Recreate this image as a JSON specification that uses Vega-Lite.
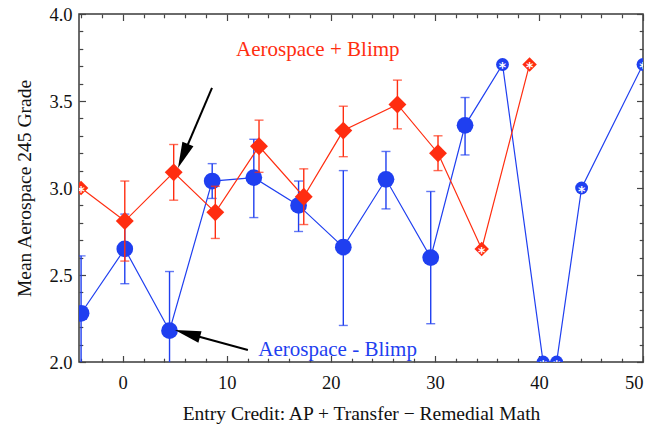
{
  "$schema": "https://vega.github.io/schema/vega-lite/v6.json",
  "width": 564,
  "height": 348,
  "autosize": "none",
  "padding": {"left": 79, "top": 14, "right": 4, "bottom": 63},
  "config": {
    "font": "Liberation Serif",
    "view": {"stroke": "#3a3a3a", "strokeWidth": 1.5},
    "axis": {"domain": false, "grid": false, "labelFont": "Liberation Serif", "titleFont": "Liberation Serif", "labelColor": "#111", "titleColor": "#111", "tickColor": "#444", "tickWidth": 1.2, "labelFontSize": 18.5, "titleFontSize": 19.5, "titleFontWeight": "normal"}
  },
  "datasets": {
    "pts": [
      {"s": "minus", "x": -4.0, "y": 2.28, "lo": 1.95, "hi": 2.61, "star": false},
      {"s": "minus", "x": 0.2, "y": 2.65, "lo": 2.45, "hi": 2.85, "star": false},
      {"s": "minus", "x": 4.5, "y": 2.18, "lo": 1.84, "hi": 2.52, "star": false},
      {"s": "minus", "x": 8.6, "y": 3.04, "lo": 2.94, "hi": 3.14, "star": false},
      {"s": "minus", "x": 12.6, "y": 3.06, "lo": 2.83, "hi": 3.28, "star": false},
      {"s": "minus", "x": 16.9, "y": 2.90, "lo": 2.75, "hi": 3.04, "star": false},
      {"s": "minus", "x": 21.2, "y": 2.66, "lo": 2.21, "hi": 3.10, "star": false},
      {"s": "minus", "x": 25.3, "y": 3.05, "lo": 2.88, "hi": 3.21, "star": false},
      {"s": "minus", "x": 29.6, "y": 2.60, "lo": 2.22, "hi": 2.98, "star": false},
      {"s": "minus", "x": 32.9, "y": 3.36, "lo": 3.19, "hi": 3.52, "star": false},
      {"s": "minus", "x": 36.5, "y": 3.71, "star": true},
      {"s": "minus", "x": 40.4, "y": 2.0, "star": true},
      {"s": "minus", "x": 41.7, "y": 2.0, "star": true},
      {"s": "minus", "x": 44.1, "y": 3.0, "star": true},
      {"s": "minus", "x": 50.0, "y": 3.71, "star": true},
      {"s": "plus", "x": -4.0, "y": 3.0, "star": true},
      {"s": "plus", "x": 0.2, "y": 2.81, "lo": 2.58, "hi": 3.04, "star": false},
      {"s": "plus", "x": 4.9, "y": 3.09, "lo": 2.93, "hi": 3.25, "star": false},
      {"s": "plus", "x": 8.9, "y": 2.86, "lo": 2.71, "hi": 3.01, "star": false},
      {"s": "plus", "x": 13.1, "y": 3.24, "lo": 3.09, "hi": 3.39, "star": false},
      {"s": "plus", "x": 17.4, "y": 2.95, "lo": 2.79, "hi": 3.11, "star": false},
      {"s": "plus", "x": 21.2, "y": 3.33, "lo": 3.18, "hi": 3.47, "star": false},
      {"s": "plus", "x": 26.4, "y": 3.48, "lo": 3.34, "hi": 3.62, "star": false},
      {"s": "plus", "x": 30.3, "y": 3.20, "lo": 3.10, "hi": 3.30, "star": false},
      {"s": "plus", "x": 34.5, "y": 2.65, "star": true},
      {"s": "plus", "x": 39.1, "y": 3.71, "star": true}
    ],
    "labels": [
      {"t": "Aerospace + Blimp", "x": 18.75, "y": 3.795, "c": "plus"},
      {"t": "Aerospace - Blimp", "x": 20.65, "y": 2.07, "c": "minus"}
    ],
    "arrows": [
      {"x": 8.58, "y": 3.575, "x2": 5.79, "y2": 3.184, "hx": 5.79, "hy": 3.184, "a": 202.5},
      {"x": 12.03, "y": 2.069, "x2": 6.22, "y2": 2.164, "hx": 6.22, "hy": 2.164, "a": 285.3}
    ]
  },
  "resolve": {"axis": {"x": "independent", "y": "independent"}},
  "layer": [
    {
      "data": {"name": "pts"},
      "transform": [{"filter": "datum.s === 'minus' && isValid(datum.lo)"}],
      "mark": {"type": "rule", "color": "#1f3ff0", "strokeWidth": 1.4, "clip": true},
      "encoding": {
        "x": {"field": "x", "type": "quantitative", "scale": {"domain": [-4.2, 50], "nice": false, "zero": false},
          "axis": {"orient": "bottom", "values": [0, 10, 20, 30, 40, 50], "ticks": false, "labelPadding": 11, "title": "Entry Credit: AP + Transfer \u2212 Remedial Math", "titlePadding": 13}},
        "y": {"field": "lo", "type": "quantitative", "scale": {"domain": [2, 4], "nice": false, "zero": false},
          "axis": {"orient": "left", "values": [2, 2.5, 3, 3.5, 4], "format": ".1f", "ticks": false, "labelPadding": 7, "title": "Mean Aerospace 245 Grade", "titlePadding": 14}},
        "y2": {"field": "hi"}
      }
    },
    {
      "data": {"name": "pts"},
      "transform": [{"filter": "datum.s === 'minus' && isValid(datum.lo)"}],
      "mark": {"type": "tick", "orient": "horizontal", "color": "#1f3ff0", "size": 9, "thickness": 1.4, "clip": true},
      "encoding": {
        "x": {"field": "x", "type": "quantitative", "axis": {"orient": "bottom", "values": [0, 10, 20, 30, 40, 50], "tickSize": -6.5, "labels": false, "title": null}},
        "y": {"field": "lo", "type": "quantitative", "axis": {"orient": "left", "values": [2, 2.5, 3, 3.5, 4], "tickSize": -6.5, "labels": false, "title": null}}
      }
    },
    {
      "data": {"name": "pts"},
      "transform": [{"filter": "datum.s === 'minus' && isValid(datum.lo)"}],
      "mark": {"type": "tick", "orient": "horizontal", "color": "#1f3ff0", "size": 9, "thickness": 1.4, "clip": true},
      "encoding": {
        "x": {"field": "x", "type": "quantitative", "axis": {"orient": "bottom", "values": [-4, -2, 2, 4, 6, 8, 12, 14, 16, 18, 22, 24, 26, 28, 32, 34, 36, 38, 42, 44, 46, 48], "tickSize": -3.8, "labels": false, "title": null}},
        "y": {"field": "hi", "type": "quantitative", "axis": {"orient": "left", "values": [2.1, 2.2, 2.3, 2.4, 2.6, 2.7, 2.8, 2.9, 3.1, 3.2, 3.3, 3.4, 3.6, 3.7, 3.8, 3.9], "tickSize": -3.8, "labels": false, "title": null}}
      }
    },
    {
      "data": {"name": "pts"},
      "transform": [{"filter": "datum.s === 'minus'"}],
      "mark": {"type": "line", "color": "#1f3ff0", "strokeWidth": 1.2, "clip": true},
      "encoding": {
        "x": {"field": "x", "type": "quantitative", "axis": {"orient": "top", "values": [0, 10, 20, 30, 40, 50], "tickSize": -6.5, "labels": false, "title": null}},
        "y": {"field": "y", "type": "quantitative", "axis": {"orient": "right", "values": [2, 2.5, 3, 3.5, 4], "tickSize": -6.5, "labels": false, "title": null}},
        "order": {"field": "x", "type": "quantitative"}
      }
    },
    {
      "data": {"name": "pts"},
      "transform": [{"filter": "datum.s === 'minus' && !datum.star"}],
      "mark": {"type": "point", "shape": "circle", "filled": true, "color": "#1f3ff0", "opacity": 1, "size": 280, "clip": true},
      "encoding": {
        "x": {"field": "x", "type": "quantitative", "axis": {"orient": "top", "values": [-4, -2, 2, 4, 6, 8, 12, 14, 16, 18, 22, 24, 26, 28, 32, 34, 36, 38, 42, 44, 46, 48], "tickSize": -3.8, "labels": false, "title": null}},
        "y": {"field": "y", "type": "quantitative", "axis": {"orient": "right", "values": [2.1, 2.2, 2.3, 2.4, 2.6, 2.7, 2.8, 2.9, 3.1, 3.2, 3.3, 3.4, 3.6, 3.7, 3.8, 3.9], "tickSize": -3.8, "labels": false, "title": null}}
      }
    },
    {
      "data": {"name": "pts"},
      "transform": [{"filter": "datum.s === 'plus' && isValid(datum.lo)"}],
      "mark": {"type": "errorbar", "ticks": {"size": 9}, "color": "#ff2d10", "thickness": 1.4},
      "encoding": {
        "x": {"field": "x", "type": "quantitative", "axis": null},
        "y": {"field": "lo", "type": "quantitative", "axis": null},
        "y2": {"field": "hi"}
      }
    },
    {
      "data": {"name": "pts"},
      "transform": [{"filter": "datum.s === 'plus'"}],
      "mark": {"type": "line", "color": "#ff2d10", "strokeWidth": 1.2, "clip": true},
      "encoding": {
        "x": {"field": "x", "type": "quantitative", "axis": null},
        "y": {"field": "y", "type": "quantitative", "axis": null},
        "order": {"field": "x", "type": "quantitative"}
      }
    },
    {
      "data": {"name": "pts"},
      "transform": [{"filter": "datum.s === 'plus' && !datum.star"}],
      "mark": {"type": "point", "shape": "diamond", "filled": true, "color": "#ff2d10", "opacity": 1, "size": 320, "clip": true},
      "encoding": {
        "x": {"field": "x", "type": "quantitative", "axis": null},
        "y": {"field": "y", "type": "quantitative", "axis": null}
      }
    },
    {
      "data": {"name": "pts"},
      "transform": [{"filter": "datum.star"}],
      "mark": {"type": "point", "filled": true, "opacity": 1, "clip": true},
      "encoding": {
        "x": {"field": "x", "type": "quantitative", "axis": null},
        "y": {"field": "y", "type": "quantitative", "axis": null},
        "shape": {"field": "s", "type": "nominal", "scale": {"domain": ["minus", "plus"], "range": ["circle", "diamond"]}, "legend": null},
        "color": {"field": "s", "type": "nominal", "scale": {"domain": ["minus", "plus"], "range": ["#1f3ff0", "#ff2d10"]}, "legend": null},
        "size": {"field": "s", "type": "nominal", "scale": {"domain": ["minus", "plus"], "range": [165, 210]}, "legend": null}
      }
    },
    {
      "data": {"name": "pts"},
      "transform": [{"filter": "datum.star"}],
      "mark": {"type": "text", "text": "*", "color": "white", "fontSize": 14, "fontWeight": "bold", "font": "DejaVu Sans", "baseline": "middle", "dy": 4, "clip": true},
      "encoding": {
        "x": {"field": "x", "type": "quantitative", "axis": null},
        "y": {"field": "y", "type": "quantitative", "axis": null}
      }
    },
    {
      "data": {"name": "labels"},
      "mark": {"type": "text", "fontSize": 21, "font": "Liberation Serif", "baseline": "middle", "align": "center"},
      "encoding": {
        "x": {"field": "x", "type": "quantitative", "axis": null},
        "y": {"field": "y", "type": "quantitative", "axis": null},
        "text": {"field": "t"},
        "color": {"field": "c", "type": "nominal", "scale": {"domain": ["minus", "plus"], "range": ["#1f3ff0", "#ff2d10"]}, "legend": null}
      }
    },
    {
      "data": {"name": "arrows"},
      "mark": {"type": "rule", "color": "black", "strokeWidth": 2},
      "encoding": {
        "x": {"field": "x", "type": "quantitative", "axis": null},
        "y": {"field": "y", "type": "quantitative", "axis": null},
        "x2": {"field": "x2"},
        "y2": {"field": "y2"}
      }
    },
    {
      "data": {"name": "arrows"},
      "mark": {"type": "point", "shape": "M0,-1L0.46,1L-0.46,1Z", "filled": true, "color": "black", "opacity": 1, "size": 676},
      "encoding": {
        "x": {"field": "hx", "type": "quantitative", "axis": null},
        "y": {"field": "hy", "type": "quantitative", "axis": null},
        "angle": {"field": "a", "type": "quantitative", "scale": null}
      }
    }
  ]
}
